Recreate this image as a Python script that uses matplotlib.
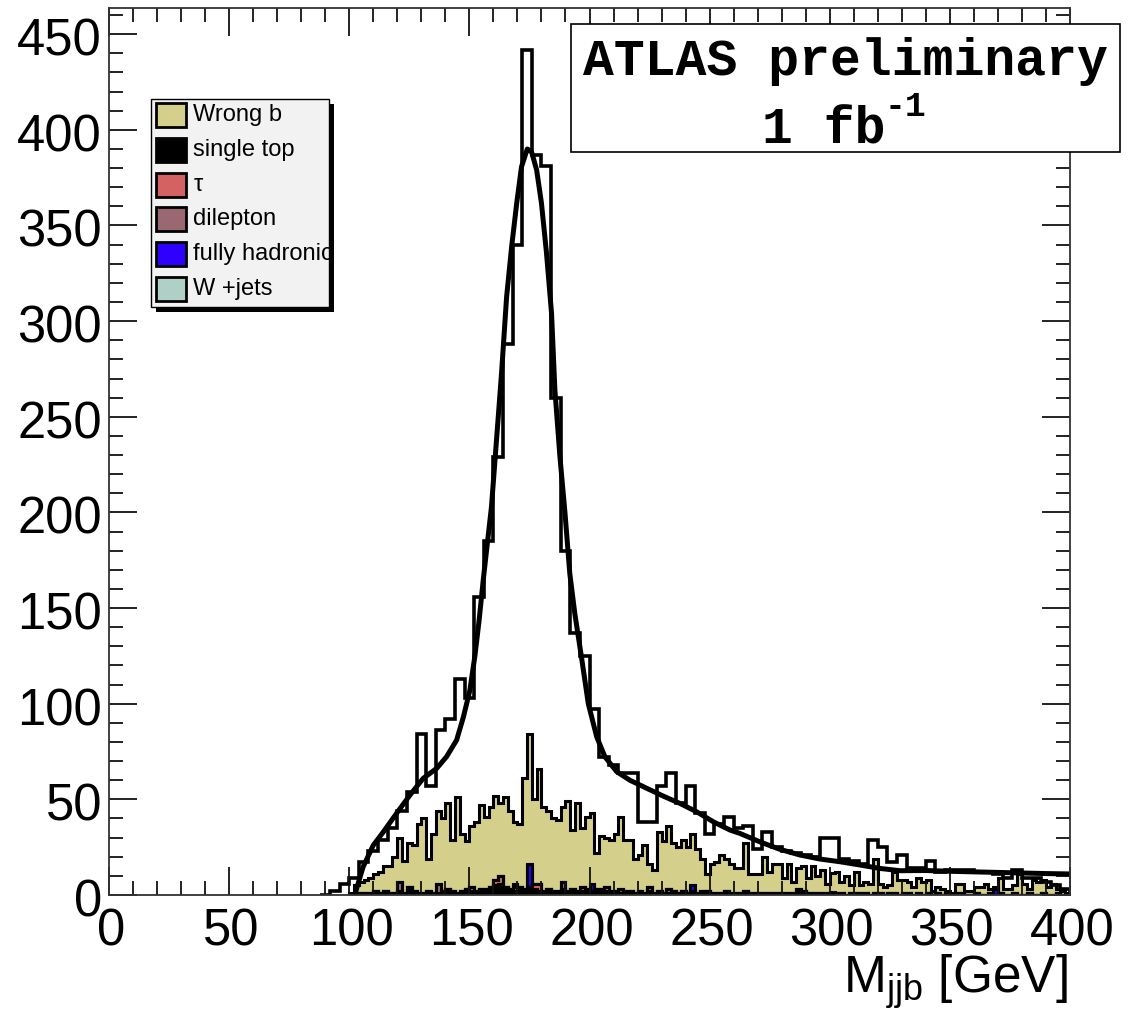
import numpy as np
import matplotlib.pyplot as plt
import matplotlib.transforms as mtransforms
from matplotlib.patches import Rectangle
from matplotlib.ticker import MultipleLocator

plt.rcParams['font.family'] = ['Liberation Sans', 'DejaVu Sans']
plt.rcParams['mathtext.default'] = 'regular'

W, H = 1132, 1016

# reconstructed m_jjb, 4 GeV bins starting at 88 GeV
data_start = 88
data_counts = [0, 2, 6, 9, 17, 23, 29, 35, 44, 54,
               84, 57, 86, 92, 113, 103, 156, 185, 229, 288,
               340, 442, 387, 381, 260, 180, 137, 125, 97, 72,
               68, 64, 64, 38, 38, 57, 64, 48, 57, 43,
               32, 37, 41, 35, 36, 24, 33, 25, 23, 22,
               21, 20, 30, 30, 19, 18, 16, 29, 25, 17,
               21, 14, 14, 18, 12, 13, 13, 13, 12, 12,
               11, 9, 13, 9, 9, 7, 5, 3]

# background components, 2 GeV bins starting at 100 GeV
bkg_start = 100
wrong_b = [1, 4, 6, 7, 8, 9, 11, 13, 14, 19,
           23, 17, 23, 24, 36, 39, 17, 31, 38, 38,
           45, 27, 50, 30, 25, 32, 36, 44, 38, 42,
           44, 38, 47, 41, 32, 33, 58, 68, 44, 60,
           44, 41, 38, 37, 39, 47, 31, 46, 31, 38,
           37, 19, 28, 26, 27, 30, 38, 27, 27, 18,
           19, 25, 12, 12, 31, 27, 33, 25, 24, 27,
           24, 27, 23, 17, 9, 15, 16, 20, 17, 15,
           13, 13, 25, 10, 10, 10, 19, 11, 15, 15,
           8, 15, 6, 11, 13, 8, 14, 9, 12, 5,
           10, 11, 6, 10, 4, 11, 4, 6, 6, 18,
           5, 4, 4, 11, 8, 7, 6, 4, 8, 7,
           7, 2, 3, 3, 1, 1, 5, 5, 2, 2,
           3, 4, 6, 2, 1, 8, 3, 3, 4, 11,
           6, 2, 8, 7, 7, 4, 6, 2, 2, 1]
single_top = [0, 1, 1, 1, 1, 2, 1, 2, 1, 1,
              2, 1, 4, 2, 1, 1, 2, 1, 1, 2,
              3, 2, 1, 2, 3, 2, 2, 3, 3, 4,
              5, 6, 4, 3, 2, 4, 3, 4, 3, 2,
              2, 3, 2, 2, 3, 2, 3, 2, 2, 3,
              2, 3, 3, 2, 2, 2, 1, 2, 2, 1,
              2, 1, 2, 1, 2, 1, 1, 2, 1, 2,
              1, 2, 1, 1, 2, 1, 1, 1, 2, 1,
              1, 1, 2, 1, 1, 1, 1, 1, 1, 1,
              1, 1, 1, 1, 2, 1, 1, 1, 1, 1,
              1, 1, 1, 0, 1, 1, 1, 1, 0, 1,
              1, 0, 1, 1, 0, 1, 1, 0, 1, 0,
              1, 0, 1, 0, 1, 0, 1, 1, 0, 0,
              1, 0, 0, 1, 0, 1, 0, 0, 1, 0,
              0, 1, 0, 0, 1, 0, 0, 1, 0, 0]
tau_bins = [150, 160, 162, 168, 176, 178, 196, 206, 224, 232, 286]
tau_vals = [2, 3, 4, 2, 3, 4, 2, 2, 2, 2, 1]
dilep_bins = [120, 136, 188, 212, 246, 286]
dilep_vals = [5, 5, 4, 2, 1, 1]
hadr_bins = [168, 174, 200, 242, 368]
hadr_vals = [2, 12, 4, 3, 3]
wjets_bins = [300]
wjets_vals = [0.5]

# fitted signal + background curve
curve_x = [102.5, 105.8, 110, 114.2, 119.7, 125.3, 130.8, 136.4, 140.5, 144.7,
           147.5, 150.2, 152.3, 154.0, 155.8, 159.2, 161.3, 163.4, 165.5, 167.6,
           169.7, 171.7, 174.1, 175.9, 178, 180, 182.1, 184.2, 185.6, 187.7,
           189.8, 191.8, 193.9, 196.7, 199.5, 203, 206.4, 211.3, 216.8, 223.8,
           230.7, 237.6, 244.6, 251.5, 258.4, 262.6, 270.9, 279.2, 287.6, 295.9,
           304.2, 312.5, 320.8, 329.2, 340, 350, 360, 370, 380, 390, 400]
curve_y = [1, 14.8, 26, 33, 42.7, 52.3, 61, 66.2, 72.3, 81,
           93, 107, 125, 143, 165, 203, 238, 273, 312.7, 339,
           361.6, 380.7, 390, 388.5, 379, 361.7, 335.6, 304, 264, 229,
           199.7, 168, 147, 124, 100, 82.7, 72.3, 64.5, 60, 55.8,
           51.7, 47.9, 43.5, 38.3, 34, 32.2, 27.8, 23.9, 20.9, 18.8,
           17.4, 15.7, 13.9, 12.7, 12.8, 12.4, 12.1, 11.8, 11.5, 11.2, 11]

legend_labels = ['Wrong b', 'single top', r'$\tau$', 'dilepton',
                 'fully hadronic', 'W +jets']
legend_colors = ['#d4cf8b', '#000000', '#d46262', '#996871',
                 '#2d00ff', '#afcfc7']

x_major = [0, 50, 100, 150, 200, 250, 300, 350, 400]
y_major = [0, 50, 100, 150, 200, 250, 300, 350, 400, 450]


def sparse(bins, vals, n):
    h = np.zeros(n)
    idx = (np.array(bins) - bkg_start) // 2
    h[idx] = vals
    return h


def fig_xy(x, y):
    return x / W, 1 - y / H


nb = len(wrong_b)
edges2 = bkg_start + 2 * np.arange(nb + 1)
edges4 = data_start + 4 * np.arange(len(data_counts) + 1)

comp_single = np.array(single_top, dtype=float)
comp_tau = sparse(tau_bins, tau_vals, nb)
comp_dilep = sparse(dilep_bins, dilep_vals, nb)
comp_hadr = sparse(hadr_bins, hadr_vals, nb)
comp_wjets = sparse(wjets_bins, wjets_vals, nb)
comp_wrong = np.array(wrong_b, dtype=float)

# cumulative stack, drawn from the total downwards
c1 = comp_single
c2 = c1 + comp_tau
c3 = c2 + comp_dilep
c4 = c3 + comp_hadr
c5 = c4 + comp_wjets
c6 = c5 + comp_wrong
layers = [(c6, legend_colors[0]), (c5, legend_colors[5]), (c4, legend_colors[4]),
          (c3, legend_colors[3]), (c2, legend_colors[2]), (c1, legend_colors[1])]

fig = plt.figure(figsize=(W / 100, H / 100), dpi=100)
x0, y0 = 109, 895
x1, y1 = 1070, 8
ax = fig.add_axes([x0 / W, 1 - y0 / H, (x1 - x0) / W, (y0 - y1) / H])

for vals, col in layers:
    ax.stairs(vals, edges2, baseline=0, fill=True, facecolor=col, edgecolor='none')
    ax.stairs(vals, edges2, baseline=0, fill=False, color='black', lw=2.2)

ax.stairs(data_counts, edges4, baseline=0, fill=False, color='black', lw=2.6)
ax.plot(curve_x, curve_y, color='black', lw=3.6, solid_joinstyle='round',
        solid_capstyle='round')

ax.set_xlim(0, 400)
ax.set_ylim(0, 463.7)
ax.xaxis.set_major_locator(MultipleLocator(50))
ax.xaxis.set_minor_locator(MultipleLocator(10))
ax.yaxis.set_major_locator(MultipleLocator(50))
ax.yaxis.set_minor_locator(MultipleLocator(10))
ax.tick_params(which='both', direction='in', top=True, right=True,
               labelbottom=False, labelleft=False, width=1.3, color='#111111')
ax.tick_params(which='major', length=20)
ax.tick_params(which='minor', length=10)
for sp in ax.spines.values():
    sp.set_linewidth(1.3)
    sp.set_color('#333333')

# axis numbers, placed like ROOT does
tick_font = dict(fontsize=36.5, color='black')
ytrans = ax.get_yaxis_transform() + mtransforms.ScaledTranslation(-0.07, -0.08, fig.dpi_scale_trans)
for v in y_major:
    ax.text(0, v, str(v), transform=ytrans, ha='right', va='center', **tick_font)
xtrans = ax.get_xaxis_transform() + mtransforms.ScaledTranslation(0.02, -0.13, fig.dpi_scale_trans)
for v in x_major:
    ax.text(v, 0, str(v), transform=xtrans, ha='center', va='top', **tick_font)

fx, fy = fig_xy(1068, 993)
fig.text(fx, fy, r'M$_{jjb}$ [GeV]', ha='right', va='baseline', fontsize=37)

# legend box with drop shadow
lx0, ly0, lx1, ly1 = 151, 99, 329, 307
sh = 5
fig.add_artist(Rectangle(fig_xy(lx0 + sh, ly1 + sh), (lx1 - lx0) / W, (ly1 - ly0) / H,
                         transform=fig.transFigure, facecolor='black', edgecolor='none', zorder=5))
leg_box = Rectangle(fig_xy(lx0, ly1), (lx1 - lx0) / W, (ly1 - ly0) / H,
                    transform=fig.transFigure, facecolor='#f2f2f2', edgecolor='black',
                    lw=1.0, zorder=6)
fig.add_artist(leg_box)
for i, (lab, col) in enumerate(zip(legend_labels, legend_colors)):
    cy = 115 + i * 34.8
    fig.add_artist(Rectangle(fig_xy(156, cy + 12), 30 / W, 24 / H,
                             transform=fig.transFigure, facecolor=col,
                             edgecolor='black', lw=2.0, zorder=7))
    tx, ty = fig_xy(193, cy)
    t = fig.text(tx, ty, lab, ha='left', va='center', fontsize=17, zorder=7)
    t.set_clip_path(leg_box)

# ATLAS label box
bx0, by0, bx1, by1 = 571, 24, 1120, 152
fig.add_artist(Rectangle(fig_xy(bx0, by1), (bx1 - bx0) / W, (by1 - by0) / H,
                         transform=fig.transFigure, facecolor='white', edgecolor='black',
                         lw=1.2, zorder=5))
mono = dict(family=['Liberation Mono', 'DejaVu Sans Mono'], weight='bold', zorder=6)
tx, ty = fig_xy(845, 75)
fig.text(tx, ty, 'ATLAS preliminary', ha='center', va='baseline', fontsize=37, **mono)
tx, ty = fig_xy(762, 143)
fig.text(tx, ty, '1 fb', ha='left', va='baseline', fontsize=37, **mono)
tx, ty = fig_xy(885, 116)
fig.text(tx, ty, '-1', ha='left', va='baseline', fontsize=25, **mono)

fig.savefig('out.png', dpi=100)
